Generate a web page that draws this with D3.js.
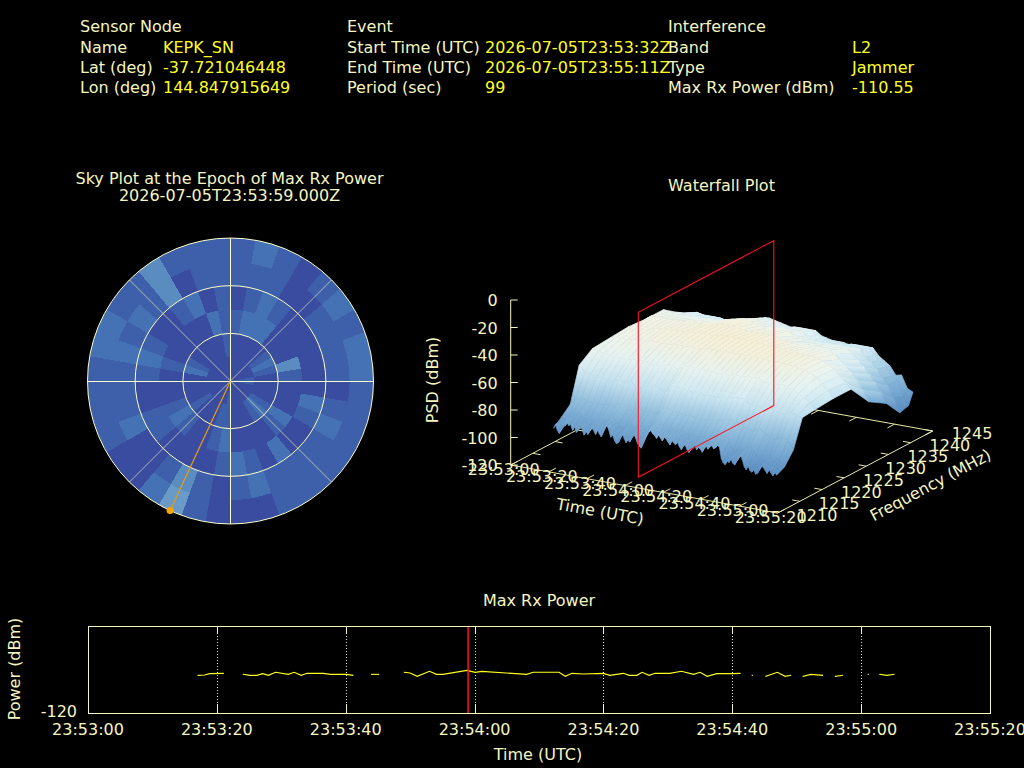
<!DOCTYPE html>
<html>

<head>
    <meta charset="utf-8">
    <style>
        html, body {
            margin: 0;
            background: #000;
        }

        svg {
            display: block;
        }

        text {
            font-family: 'DejaVu Sans', sans-serif;
            font-size: 16px;
            fill: #f5f5c0;
        }

        .value {
            fill: #ffff20;
        }
    </style>
</head>

<body>
    <svg width="1024" height="768"></svg>

    <script src="https://d3js.org/d3.v7.min.js"></script>

    <script>
        // header block
        let headerLabels = [
            ["Sensor Node", "Name", "Lat (deg)", "Lon (deg)"],
            ["Event", "Start Time (UTC)", "End Time (UTC)", "Period (sec)"],
            ["Interference", "Band", "Type", "Max Rx Power (dBm)"]
        ];
        let headerValues = [
            ["", "KEPK_SN", "-37.721046448", "144.847915649"],
            ["", "2026-07-05T23:53:32Z", "2026-07-05T23:55:11Z", "99"],
            ["", "L2", "Jammer", "-110.55"]
        ];

        // sky plot, levels by elevation bin (outer to inner) and 10 deg azimuth bin
        let skyLevels = [
            [1, 2, 1, 0, 1, 2, 1, 2, 2, 1, 1, 1, 1, 1, 1, 1, 0, 0, 0, 1, 4, 2, 0, 0, 1, 1, 1, 1, 2, 2, 1, 1, 3, 1, 1, 1],
            [1, 1, 1, 0, 0, 1, 1, 1, 1, 0, 1, 2, 1, 1, 1, 1, 2, 1, 0, 1, 3, 1, 0, 0, 2, 1, 1, 1, 2, 1, 2, 1, 3, 0, 1, 1],
            [0, 1, 2, 1, 0, 0, 0, 0, 0, 0, 2, 1, 0, 0, 2, 0, 1, 2, 1, 0, 0, 0, 0, 1, 1, 0, 0, 1, 2, 1, 0, 0, 1, 2, 0, 1],
            [1, 2, 2, 2, 0, 0, 0, 3, 1, 0, 0, 0, 2, 1, 0, 0, 0, 0, 2, 1, 0, 0, 1, 2, 1, 0, 0, 0, 1, 0, 0, 0, 0, 0, 2, 1],
            [0, 0, 0, 0, 0, 1, 2, 1, 0, 0, 0, 0, 1, 2, 1, 0, 0, 0, 1, 1, 0, 0, 0, 1, 0, 0, 0, 0, 2, 1, 0, 0, 0, 0, 0, 1],
            [0, 0, 0, 0, 0, 0, 0, 0, 1, 1, 0, 0, 0, 0, 0, 0, 0, 0, 1, 0, 0, 0, 0, 0, 0, 0, 0, 0, 0, 0, 0, 0, 0, 0, 0, 0]
        ];
        let skyColors = ["#394ca0", "#3e60aa", "#4472b4", "#5a8cc0", "#6a9ac8"];
        let skyRings = [0, 30, 60];
        let skySpokes = [45, 135, 225, 315];
        let skyCross = [0, 90, 180, 270];
        let peakAz = 205;
        let peakEl = 0;

        // waterfall surface, PSD (dBm) by frequency row (front to back) and time column
        let surfaceSeconds = [15, 18, 21, 24, 27, 30, 33, 36, 39, 42, 45, 48, 51, 54, 57, 60, 63, 66, 69, 72, 75, 78, 81, 84, 87, 90, 93, 96, 99, 102, 105, 108, 111, 114, 117, 120, 123, 126, 129, 132];
        let surfaceFreqs = [1213.2, 1215, 1217, 1219, 1222, 1226, 1230, 1234, 1238, 1241, 1243, 1244];
        let surfacePsd = [
            [-95, -97, -91, -90, -94, -92, -95, -91, -93, -88, -94, -97, -93, -95, -91, -97, -90, -85, -87, -88, -90, -89, -92, -91, -93, -90, -91, -89, -88, -87, -98, -96, -97, -92, -98, -100, -101, -96, -99, -100],
            [-90, -92, -86, -85, -88, -87, -89, -85, -87, -83, -88, -90, -86, -88, -85, -90, -84, -80, -82, -83, -84, -83, -86, -85, -87, -84, -85, -83, -82, -82, -92, -90, -91, -86, -92, -94, -95, -90, -93, -97],
            [-84, -80, -78, -79, -80, -79, -81, -78, -79, -76, -80, -81, -78, -80, -78, -81, -76, -74, -75, -76, -77, -76, -78, -77, -78, -76, -77, -75, -74, -75, -80, -78, -80, -76, -80, -82, -83, -80, -82, -88],
            [-59, -63, -64, -66, -65, -66, -67, -64, -66, -64, -67, -67, -65, -66, -65, -68, -63, -62, -63, -63, -64, -63, -65, -64, -65, -63, -64, -62, -62, -62, -66, -65, -66, -63, -66, -67, -68, -66, -67, -68],
            [-52, -53, -54, -55, -55, -55, -56, -54, -55, -54, -56, -56, -55, -55, -54, -56, -53, -52, -53, -53, -53, -53, -54, -53, -54, -52, -53, -52, -52, -52, -54, -54, -55, -53, -55, -56, -58, -60, -63, -67],
            [-51, -50, -50, -50, -49, -49, -49, -48, -48, -48, -48, -48, -47, -47, -47, -47, -47, -46, -46, -46, -46, -46, -46, -46, -46, -46, -46, -46, -47, -47, -47, -47, -48, -48, -49, -50, -53, -57, -61, -66],
            [-50, -49, -48, -48, -48, -47, -47, -46, -46, -46, -46, -45, -45, -45, -45, -45, -44, -44, -44, -44, -44, -44, -44, -44, -45, -45, -45, -46, -46, -46, -47, -47, -47, -48, -49, -51, -54, -58, -62, -66],
            [-51, -48, -48, -48, -48, -48, -48, -48, -47, -47, -47, -46, -46, -45, -45, -45, -45, -46, -46, -46, -46, -46, -46, -47, -48, -49, -49, -50, -50, -50, -50, -50, -50, -52, -55, -59, -63, -68, -74, -82],
            [-51, -52, -53, -53, -53, -53, -53, -53, -52, -52, -52, -50, -49, -48, -47, -48, -49, -50, -51, -50, -50, -50, -50, -53, -54, -55, -55, -55, -56, -55, -55, -55, -55, -58, -62, -66, -71, -76, -82, -90],
            [-58, -58, -58, -59, -59, -59, -59, -60, -59, -59, -58, -56, -55, -54, -53, -54, -55, -56, -57, -56, -56, -56, -56, -59, -60, -61, -61, -61, -62, -61, -61, -61, -61, -66, -69, -73, -79, -84, -92, -102],
            [-62, -61, -60, -61, -61, -61, -61, -62, -61, -61, -60, -58, -57, -56, -55, -56, -57, -58, -59, -58, -58, -58, -58, -61, -62, -63, -63, -63, -64, -63, -63, -63, -63, -68, -71, -75, -81, -83, -94, -100],
            [-66, -64, -63, -64, -64, -64, -64, -65, -64, -64, -63, -60, -59, -58, -57, -58, -59, -60, -61, -60, -60, -60, -60, -63, -64, -65, -65, -65, -66, -65, -65, -65, -65, -70, -73, -76, -82, -81, -90, -92]
        ];
        // the toothed lower edge of the front row, one value per second from 15 s
        let fringeStart = 15;
        let frontFringe = [
            -95, -92, -96, -98, -93, -90, -92, -89, -91, -90, -94, -91, -95, -93, -90, -92, -96, -93, -95, -92,
            -90, -91, -94, -90, -93, -95, -90, -88, -86, -89, -94, -92, -96, -98, -97, -93, -90, -93, -96, -94,
            -95, -92, -89, -91, -95, -97, -98, -92, -90, -87, -85, -84, -86, -87, -89, -86, -88, -90, -87, -88,
            -90, -92, -88, -90, -91, -89, -92, -94, -91, -90, -93, -95, -93, -91, -89, -92, -90, -91, -93, -90,
            -88, -90, -88, -87, -89, -88, -86, -87, -95, -98, -99, -96, -97, -94, -97, -98, -95, -91, -90, -93,
            -98, -100, -97, -100, -101, -99, -102, -101, -97, -95, -96, -98, -100, -97, -99, -101, -98, -100
        ];
        let psdStops = [-120, -100, -85, -70, -60, -50, -44];
        let psdColors = ["#3f62ab", "#5f92c6", "#7fb0d6", "#b5d9ea", "#dcf0f6", "#eef4ec", "#f6efd6"];
        let psdTicks = [0, -20, -40, -60, -80, -100, -120];
        let freqTicks = [1210, 1215, 1220, 1225, 1230, 1235, 1240, 1245];
        let timeTickSeconds = [0, 20, 40, 60, 80, 100, 120, 140];
        let timeTickLabels = ["23:53:00", "23:53:20", "23:53:40", "23:54:00", "23:54:20", "23:54:40", "23:55:00", "23:55:20"];
        let frameSecond = 59;
        let frameFreqs = [1213.4, 1244];

        // max rx power, gaps split the series
        let powerSegments = [
            [[17.1, -111.24], [18.1, -111.16], [18.9, -110.85], [21.0, -110.78]],
            [[24.1, -111.01], [25.1, -111.24], [26.2, -111.24], [27.1, -110.85], [28.0, -111.24], [29.1, -110.54], [31.1, -111.01], [32.0, -110.54], [33.1, -111.24], [34.0, -110.78], [36.5, -110.78], [37.6, -111.01], [40.1, -111.01], [41.1, -111.24]],
            [[44.0, -111.01], [45.1, -111.01]],
            [[49.1, -110.54], [50.0, -110.7], [51.1, -111.47], [53.0, -110.31], [54.1, -111.01], [55.1, -111.01], [58.8, -110.08], [60.1, -110.54], [61.1, -110.31], [68.1, -111.01], [69.1, -110.54], [73.1, -110.54], [74.1, -111.47], [75.1, -110.78], [76.9, -110.93], [80.0, -110.78], [81.0, -111.24], [83.1, -110.78], [84.0, -111.24], [85.2, -111.24], [86.0, -110.54], [87.1, -111.24], [88.0, -110.78], [90.3, -110.78], [92.1, -110.31], [94.0, -111.01], [95.0, -110.54], [96.1, -111.47], [97.6, -110.85], [99.9, -110.85], [101.2, -110.78]],
            [[103.1, -111.24]],
            [[105.2, -111.47], [107.0, -110.54], [108.2, -111.47], [109.05, -111.24]],
            [[111.0, -111.47], [112.2, -111.01], [114.0, -111.24]],
            [[116.0, -111.47], [117.1, -111.24]],
            [[121.1, -111.01]],
            [[122.9, -111.01], [124.0, -111.24], [125.1, -111.01]]
        ];

        let cream = "#f5f5c0";
        let axisCream = "#e8e8a8";
        let svg = d3.select("svg");

        // ---------- header ----------
        let headerX = [[80, 163], [347, 485], [668, 852]];
        let headerY = [32, 53, 73, 93];
        headerLabels.forEach((col, i) => {
            col.forEach((t, j) => {
                svg.append("text").attr("x", headerX[i][0]).attr("y", headerY[j]).text(t);
                svg.append("text").attr("class", "value").attr("x", headerX[i][1]).attr("y", headerY[j]).text(headerValues[i][j]);
            });
        });

        // ---------- sky plot ----------
        let skyCenter = [230.5, 381];
        let skyR = d3.scaleLinear().domain([90, 0]).range([0, 143]);
        let sky = svg.append("g").attr("transform", `translate(${skyCenter})`);

        let arc = d3.arc();
        let binR = d3.scaleLinear().domain([6, 0]).range([0, 143]);
        let binA = d3.scaleLinear().domain([0, 36]).range([0, 2 * Math.PI]);
        skyLevels.forEach((row, r) => {
            sky.append("g").selectAll("path")
                .data(row)
                .join("path")
                .attr("d", (d, i) => arc({
                    innerRadius: binR(r + 1),
                    outerRadius: binR(r),
                    startAngle: binA(i),
                    endAngle: binA(i + 1)
                }))
                .attr("fill", d => skyColors[d])
                .attr("shape-rendering", "crispEdges");
        });

        sky.selectAll(".ring")
            .data(skyRings)
            .join("circle")
            .attr("class", "ring")
            .attr("r", d => skyR(d))
            .attr("fill", "none")
            .attr("stroke", "#fdfdc8")
            .attr("stroke-width", 1);

        let polar = (az, el) => [
            skyR(el) * Math.sin(az * Math.PI / 180),
            -skyR(el) * Math.cos(az * Math.PI / 180)
        ];
        sky.selectAll(".spoke")
            .data(skySpokes)
            .join("line")
            .attr("class", "spoke")
            .attr("x2", d => polar(d, 0)[0])
            .attr("y2", d => polar(d, 0)[1])
            .attr("stroke", "#fdfdc8")
            .attr("stroke-opacity", 0.6);
        sky.selectAll(".cross")
            .data(skyCross)
            .join("line")
            .attr("class", "cross")
            .attr("x2", d => polar(d, 0)[0])
            .attr("y2", d => polar(d, 0)[1])
            .attr("stroke", "#fdfdc8")
            .attr("shape-rendering", "crispEdges");

        sky.append("line")
            .attr("x2", polar(peakAz, peakEl)[0])
            .attr("y2", polar(peakAz, peakEl)[1])
            .attr("stroke", "#e89c10")
            .attr("stroke-width", 1.2);
        sky.append("circle")
            .attr("cx", polar(peakAz, peakEl)[0])
            .attr("cy", polar(peakAz, peakEl)[1])
            .attr("r", 3.5)
            .attr("fill", "#ffa500");

        svg.append("text").attr("x", 229.5).attr("y", 184).attr("text-anchor", "middle").text("Sky Plot at the Epoch of Max Rx Power");
        svg.append("text").attr("x", 229.5).attr("y", 201).attr("text-anchor", "middle").text("2026-07-05T23:53:59.000Z");

        // ---------- waterfall, fixed oblique view ----------
        let timeX = d3.scaleLinear().domain([0, 140]).range([0, 267]);
        let timeY = d3.scaleLinear().domain([0, 140]).range([0, 48]);
        let freqX = d3.scaleLinear().domain([1210, 1245]).range([0, 155]);
        let freqY = d3.scaleLinear().domain([1210, 1245]).range([0, -82]);
        let psdY = d3.scaleLinear().domain([-120, 0]).range([0, -165]);
        let origin = [510.7, 465];
        let project = (t, f, p) => [
            origin[0] + timeX(t) + freqX(f),
            origin[1] + timeY(t) + freqY(f) + psdY(p)
        ];
        let psdColor = d3.scaleLinear().domain(psdStops).range(psdColors).clamp(true);
        let segment = (g, a, b, color, width) => g.append("line")
            .attr("x1", a[0]).attr("y1", a[1]).attr("x2", b[0]).attr("y2", b[1])
            .attr("stroke", color).attr("stroke-width", width || 1);

        let wf = svg.append("g");

        // floor box
        segment(wf, project(0, 1210, -120), project(140, 1210, -120), axisCream);
        segment(wf, project(140, 1210, -120), project(140, 1245, -120), axisCream);
        segment(wf, project(140, 1245, -120), project(0, 1245, -120), axisCream);
        segment(wf, project(0, 1245, -120), project(0, 1210, -120), axisCream);

        timeTickSeconds.forEach((t, i) => {
            segment(wf, project(t, 1210, -120), project(t, 1211.6, -120), axisCream);
            segment(wf, project(t, 1245, -120), project(t, 1243.4, -120), axisCream);
            let p = project(t, 1210, -120);
            wf.append("text").attr("x", p[0] - 7).attr("y", p[1] + 10).attr("text-anchor", "middle").text(timeTickLabels[i]);
        });
        freqTicks.forEach(f => {
            segment(wf, project(140, f, -120), project(136, f, -120), axisCream);
            segment(wf, project(0, f, -120), project(4, f, -120), axisCream);
            let p = project(140, f, -120);
            wf.append("text").attr("x", p[0] + 19).attr("y", p[1] + 8).text(f);
        });

        // psd axis
        segment(wf, project(0, 1210, 0), project(0, 1210, -120), cream);
        psdTicks.forEach(d => {
            let p = project(0, 1210, d);
            segment(wf, p, [p[0] + 7, p[1]], cream);
            wf.append("text").attr("x", p[0] - 13).attr("y", p[1] + 6).attr("text-anchor", "end").text(d);
        });

        // surface, painted back to front
        let defs = svg.append("defs");
        let surface = wf.append("g");
        let gid = 0;
        let addQuad = corners => {
            let top = d3.least(corners, d => d.p[1]);
            let bottom = d3.greatest(corners, d => d.p[1]);
            let id = "q" + (gid++);
            let grad = defs.append("linearGradient")
                .attr("id", id)
                .attr("gradientUnits", "userSpaceOnUse")
                .attr("x1", 0).attr("x2", 0)
                .attr("y1", top.p[1]).attr("y2", bottom.p[1]);
            grad.append("stop").attr("offset", 0).attr("stop-color", psdColor(top.v));
            grad.append("stop").attr("offset", 1).attr("stop-color", psdColor(bottom.v));
            surface.append("path")
                .attr("d", d3.line()(corners.map(d => d.p)) + "Z")
                .attr("fill", `url(#${id})`)
                .attr("stroke", `url(#${id})`)
                .attr("stroke-width", 0.7);
        };
        let gridCorner = (i, j) => ({
            p: project(surfaceSeconds[j], surfaceFreqs[i], surfacePsd[i][j]),
            v: surfacePsd[i][j]
        });
        for (let r = surfaceFreqs.length - 2; r >= 1; r--) {
            for (let c = 0; c < surfaceSeconds.length - 1; c++) {
                addQuad([gridCorner(r, c), gridCorner(r, c + 1), gridCorner(r + 1, c + 1), gridCorner(r + 1, c)]);
            }
        }
        // front strip follows the fine fringe
        let row1 = d3.scaleLinear().domain(surfaceSeconds).range(surfacePsd[1]);
        let fringeCorner = (s, f, v) => ({ p: project(s, f, v), v: v });
        frontFringe.slice(0, -1).forEach((v, k) => {
            let s = fringeStart + k;
            addQuad([
                fringeCorner(s, surfaceFreqs[1], row1(s)),
                fringeCorner(s + 1, surfaceFreqs[1], row1(s + 1)),
                fringeCorner(s + 1, surfaceFreqs[0], frontFringe[k + 1]),
                fringeCorner(s, surfaceFreqs[0], v)
            ]);
        });

        // red frame at the epoch of max power
        let frame = d3.line()([
            project(frameSecond, frameFreqs[0], -120),
            project(frameSecond, frameFreqs[1], -120),
            project(frameSecond, frameFreqs[1], 0),
            project(frameSecond, frameFreqs[0], 0)
        ]) + "Z";
        wf.append("path").attr("d", frame).attr("fill", "none").attr("stroke", "#ff1020").attr("stroke-width", 1.1);

        svg.append("text").attr("x", 721.5).attr("y", 191).attr("text-anchor", "middle").text("Waterfall Plot");
        svg.append("text").attr("transform", "translate(438,380) rotate(-90)").attr("text-anchor", "middle").text("PSD (dBm)");
        svg.append("text").attr("transform", "translate(599,517) rotate(10.2)").attr("text-anchor", "middle").text("Time (UTC)");
        svg.append("text").attr("transform", "translate(933,490) rotate(-28)").attr("text-anchor", "middle").text("Frequency (MHz)");

        // ---------- max rx power ----------
        let px = d3.scaleLinear().domain([0, 140]).range([88, 990]);
        let py = d3.scaleLinear().domain([-120, -100]).range([713, 627]);
        let pw = svg.append("g");

        pw.selectAll(".grid")
            .data(timeTickSeconds.slice(1, -1))
            .join("line")
            .attr("class", "grid")
            .attr("x1", d => Math.round(px(d)) + 0.5)
            .attr("x2", d => Math.round(px(d)) + 0.5)
            .attr("y1", py(-100))
            .attr("y2", py(-120))
            .attr("stroke", "#dddddd")
            .attr("stroke-dasharray", "1,2");

        // short inward ticks on the frame
        pw.selectAll(".tick-bottom")
            .data(timeTickSeconds.slice(1, -1))
            .join("line")
            .attr("class", "tick-bottom")
            .attr("x1", d => Math.round(px(d)) + 0.5)
            .attr("x2", d => Math.round(px(d)) + 0.5)
            .attr("y1", py(-120))
            .attr("y2", py(-120) - 9)
            .attr("stroke", cream);
        pw.selectAll(".tick-top")
            .data(timeTickSeconds.slice(1, -1))
            .join("line")
            .attr("class", "tick-top")
            .attr("x1", d => Math.round(px(d)) + 0.5)
            .attr("x2", d => Math.round(px(d)) + 0.5)
            .attr("y1", py(-100))
            .attr("y2", py(-100) + 7)
            .attr("stroke", cream);

        let powerLine = d3.line().x(d => px(d[0])).y(d => py(d[1]));
        pw.selectAll(".power")
            .data(powerSegments)
            .join("path")
            .attr("class", "power")
            .attr("d", powerLine)
            .attr("fill", "none")
            .attr("stroke", "#ffff20")
            .attr("stroke-width", 1.1)
            .attr("stroke-linecap", "square");

        pw.append("line")
            .attr("x1", px(frameSecond)).attr("x2", px(frameSecond))
            .attr("y1", py(-100)).attr("y2", py(-120))
            .attr("stroke", "#ff1020")
            .attr("stroke-width", 1.5);

        pw.append("rect")
            .attr("x", 88.5).attr("y", 626.5).attr("width", 902).attr("height", 87)
            .attr("fill", "none")
            .attr("stroke", cream)
            .attr("stroke-width", 1);

        pw.selectAll(".xt")
            .data(timeTickSeconds)
            .join("text")
            .attr("class", "xt")
            .attr("x", d => px(d))
            .attr("y", 735)
            .attr("text-anchor", "middle")
            .text((d, i) => timeTickLabels[i]);

        svg.append("text").attr("x", 77).attr("y", 717).attr("text-anchor", "end").text("-120");
        svg.append("text").attr("x", 539).attr("y", 606).attr("text-anchor", "middle").text("Max Rx Power");
        svg.append("text").attr("x", 538).attr("y", 760).attr("text-anchor", "middle").text("Time (UTC)");
        svg.append("text").attr("transform", "translate(20,669) rotate(-90)").attr("text-anchor", "middle").text("Power (dBm)");
    </script>
</body>

</html>
